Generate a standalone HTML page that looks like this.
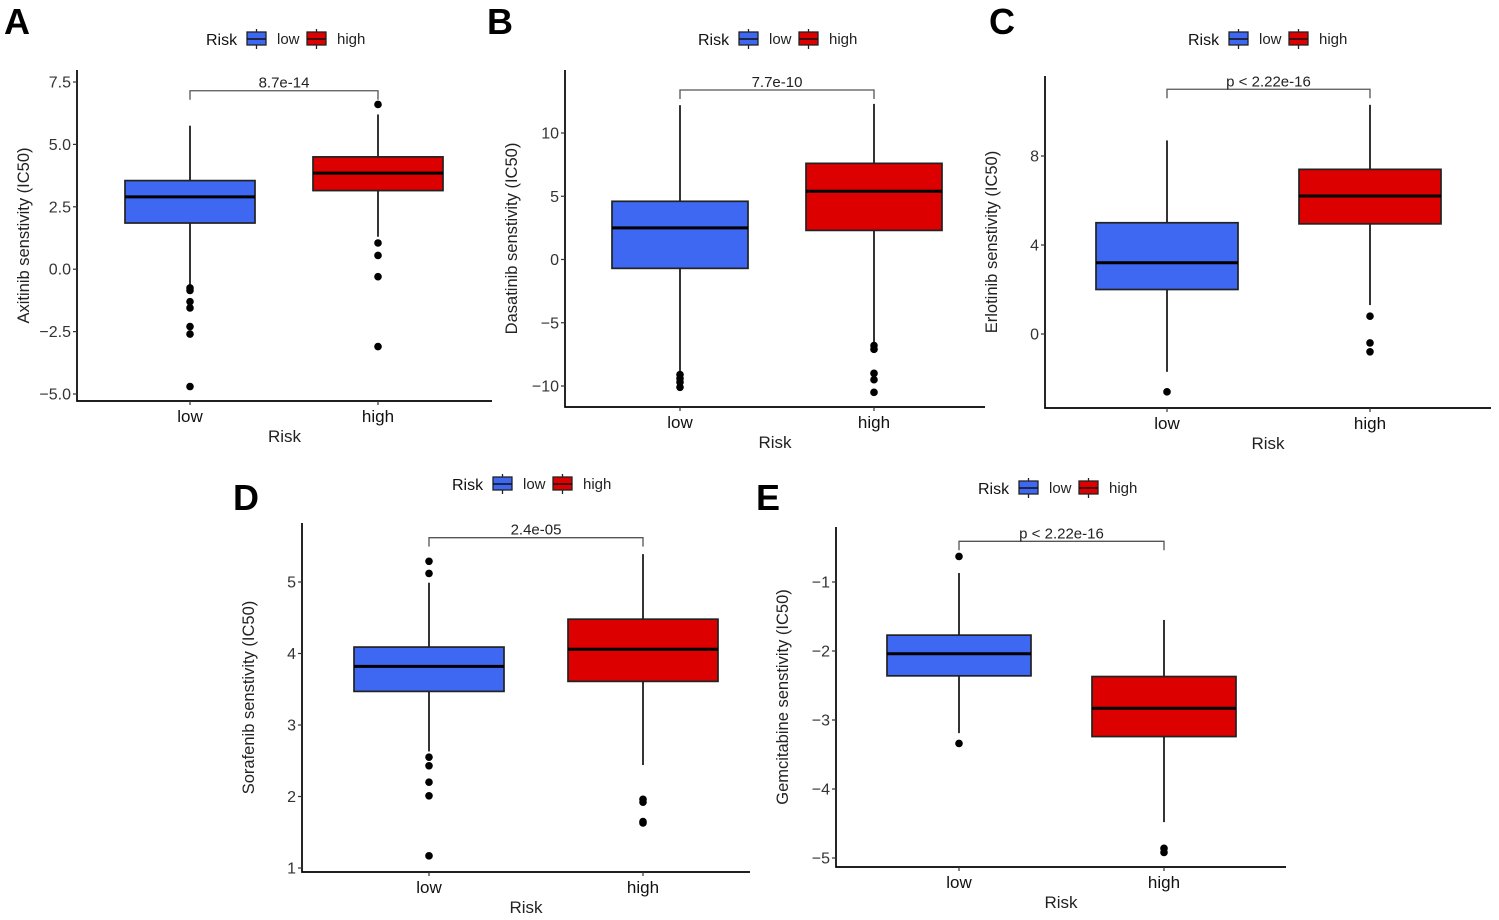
<!DOCTYPE html>
<html><head><meta charset="utf-8"><style>
html,body{margin:0;padding:0;background:#fff;}
svg{display:block;font-family:"Liberation Sans",Arial,sans-serif;}
</style></head><body>
<svg id="fig" width="1499" height="920" viewBox="0 0 1499 920"></svg>
<script>
// ---- data ----
const categories = ["low", "high"];
// stats: [whiskerLow, q1, median, q3, whiskerHigh]
const aTicks = [-5.0, -2.5, 0.0, 2.5, 5.0, 7.5];
const aTickLabels = ["\u22125.0", "\u22122.5", "0.0", "2.5", "5.0", "7.5"];
const aLowStats = [-0.65, 1.85, 2.9, 3.55, 5.75];
const aHighStats = [1.3, 3.15, 3.85, 4.5, 6.2];
const aLowOut = [-0.75, -0.85, -1.3, -1.55, -2.3, -2.6, -4.7];
const aHighOut = [6.6, 1.05, 0.55, -0.3, -3.1];
const aBracket = 7.15;

const bTicks = [-10, -5, 0, 5, 10];
const bTickLabels = ["\u221210", "\u22125", "0", "5", "10"];
const bLowStats = [-8.9, -0.7, 2.5, 4.6, 12.2];
const bHighStats = [-6.6, 2.3, 5.4, 7.6, 12.3];
const bLowOut = [-9.1, -9.4, -9.7, -10.1];
const bHighOut = [-6.8, -7.1, -9.0, -9.5, -10.5];
const bBracket = 13.4;

const cTicks = [0, 4, 8];
const cTickLabels = ["0", "4", "8"];
const cLowStats = [-1.7, 2.0, 3.2, 5.0, 8.7];
const cHighStats = [1.3, 4.95, 6.2, 7.4, 10.3];
const cLowOut = [-2.6];
const cHighOut = [0.8, -0.4, -0.8];
const cBracket = 11.0;

const dTicks = [1, 2, 3, 4, 5];
const dTickLabels = ["1", "2", "3", "4", "5"];
const dLowStats = [2.63, 3.47, 3.82, 4.09, 4.99];
const dHighStats = [2.44, 3.61, 4.06, 4.48, 5.39];
const dLowOut = [5.29, 5.12, 2.55, 2.43, 2.2, 2.01, 1.17];
const dHighOut = [1.96, 1.92, 1.65, 1.63];
const dBracket = 5.62;

const eTicks = [-5, -4, -3, -2, -1];
const eTickLabels = ["\u22125", "\u22124", "\u22123", "\u22122", "\u22121"];
const eLowStats = [-3.19, -2.36, -2.04, -1.77, -0.87];
const eHighStats = [-4.48, -3.24, -2.83, -2.37, -1.55];
const eLowOut = [-0.63, -3.34];
const eHighOut = [-4.86, -4.92];
const eBracket = -0.41;

// ---- layout ----
const panels = [
 {id:"a", letter:"A", lx:4, ly:34, ax:77, ay:401, top:70, right:492, xl:190, xh:378, hw:65, p1:[-5,394], p2:[7.5,82], title:"Axitinib senstivity (IC50)", pval:"8.7e-14", legX:206, legY:39,
  ticks:aTicks, tl:aTickLabels, lo:aLowStats, hi:aHighStats, lo_o:aLowOut, hi_o:aHighOut, br:aBracket},
 {id:"b", letter:"B", lx:487, ly:34, ax:565, ay:407, top:70, right:985, xl:680, xh:874, hw:68, p1:[-10,386], p2:[10,133], title:"Dasatinib senstivity (IC50)", pval:"7.7e-10", legX:698, legY:39,
  ticks:bTicks, tl:bTickLabels, lo:bLowStats, hi:bHighStats, lo_o:bLowOut, hi_o:bHighOut, br:bBracket},
 {id:"c", letter:"C", lx:989, ly:34, ax:1045, ay:408, top:76, right:1491, xl:1167, xh:1370, hw:71, p1:[0,334], p2:[8,156], title:"Erlotinib senstivity (IC50)", pval:"p < 2.22e-16", legX:1188, legY:39,
  ticks:cTicks, tl:cTickLabels, lo:cLowStats, hi:cHighStats, lo_o:cLowOut, hi_o:cHighOut, br:cBracket},
 {id:"d", letter:"D", lx:233, ly:510, ax:302, ay:872, top:523, right:750, xl:429, xh:643, hw:75, p1:[1,868], p2:[5,582], title:"Sorafenib senstivity (IC50)", pval:"2.4e-05", legX:452, legY:484,
  ticks:dTicks, tl:dTickLabels, lo:dLowStats, hi:dHighStats, lo_o:dLowOut, hi_o:dHighOut, br:dBracket},
 {id:"e", letter:"E", lx:756, ly:510, ax:836, ay:867, top:527, right:1286, xl:959, xh:1164, hw:72, p1:[-5,858], p2:[-1,582], title:"Gemcitabine senstivity (IC50)", pval:"p < 2.22e-16", legX:978, legY:488,
  ticks:eTicks, tl:eTickLabels, lo:eLowStats, hi:eHighStats, lo_o:eLowOut, hi_o:eHighOut, br:eBracket}
];
const BLUE="#3f68f2", RED="#dc0000";
const NS="http://www.w3.org/2000/svg";
const svg=document.getElementById("fig");
function mk(tag, attrs, parent, text){
  const el=document.createElementNS(NS,tag);
  for(const k in attrs) el.setAttribute(k, attrs[k]);
  if(text!==undefined) el.textContent=text;
  parent.appendChild(el); return el;
}
panels.forEach(p=>{
  const g=mk("g",{},svg);
  
  
  const ppu=(p.p1[1]-p.p2[1])/(p.p2[0]-p.p1[0]);
  const y=v=>p.p1[1]-(v-p.p1[0])*ppu;
  const xs=[p.xl,p.xh];
  const L=mk("text",{x:p.lx,y:p.ly,"font-size":36,"font-weight":"bold",fill:"#000"},g,p.letter);
  
  
  const lg=mk("g",{},g);
  
  
  mk("text",{x:p.legX,y:p.legY+6,"font-size":16,fill:"#111"},lg,"Risk");
  [[BLUE,"low",41,71],[RED,"high",101,131]].forEach(([c,lab,kx,tx])=>{
    const k=mk("g",{},lg);
    
    
    const X=p.legX+kx;
    mk("line",{x1:X+9.5,x2:X+9.5,y1:p.legY-10,y2:p.legY+10,stroke:"#222","stroke-width":1.3},k);
    mk("rect",{x:X,y:p.legY-7,width:19,height:13,fill:c,stroke:"#222","stroke-width":1.3},k);
    mk("line",{x1:X,x2:X+19,y1:p.legY,y2:p.legY,stroke:"#111","stroke-width":1.6},k);
    mk("text",{x:p.legX+tx,y:p.legY+5,"font-size":15,fill:"#222"},k,lab);
  });
  const ax=mk("path",{d:`M${p.ax},${p.top} V${p.ay} H${p.right}`,fill:"none",stroke:"#000","stroke-width":1.7},g);
  
  
  p.ticks.forEach((t,i)=>{
    mk("line",{x1:p.ax-4,x2:p.ax,y1:y(t),y2:y(t),stroke:"#333","stroke-width":1.2},g);
    const tl=mk("text",{x:p.ax-6,y:y(t)+5.5,"font-size":16,fill:"#333","text-anchor":"end"},g,p.tl[i]);
    
    
  });
  categories.forEach((c,i)=>{
    mk("line",{x1:xs[i],x2:xs[i],y1:p.ay,y2:p.ay+4,stroke:"#333","stroke-width":1.2},g);
    const t=mk("text",{x:xs[i],y:p.ay+21,"font-size":17,fill:"#111","text-anchor":"middle"},g,c);
    
    
  });
  const xt=mk("text",{x:(p.ax+p.right)/2,y:p.ay+41,"font-size":17,fill:"#222","text-anchor":"middle"},g,"Risk");
  
  
  const cy=(p.top+p.ay)/2;
  const yt=mk("text",{x:p.ax-48,y:cy,"font-size":16.5,fill:"#222","text-anchor":"middle",transform:`rotate(-90 ${p.ax-48} ${cy})`},g,p.title);
  
  
  [[p.lo,p.lo_o,BLUE,"low"],[p.hi,p.hi_o,RED,"high"]].forEach(([s,o,c,lab],i)=>{
    const bx=mk("g",{},g);
    
    
    const X=xs[i];
    mk("line",{x1:X,x2:X,y1:y(s[4]),y2:y(s[3]),stroke:"#111","stroke-width":1.7},bx);
    mk("line",{x1:X,x2:X,y1:y(s[1]),y2:y(s[0]),stroke:"#111","stroke-width":1.7},bx);
    mk("rect",{x:X-p.hw,y:y(s[3]),width:2*p.hw,height:y(s[1])-y(s[3]),fill:c,stroke:"#222","stroke-width":1.7},bx);
    mk("line",{x1:X-p.hw,x2:X+p.hw,y1:y(s[2]),y2:y(s[2]),stroke:"#000","stroke-width":3},bx);
    o.forEach(v=>{
      const pt=mk("circle",{cx:X,cy:y(v),r:3.8,fill:"#000"},bx);
      
      
    });
  });
  const by=y(p.br);
  const b=mk("path",{d:`M${p.xl},${by+9} V${by} H${p.xh} V${by+9}`,fill:"none",stroke:"#555","stroke-width":1.3},g);
  
  
  const pv=mk("text",{x:(p.xl+p.xh)/2,y:by-3,"font-size":15,fill:"#222","text-anchor":"middle"},g,p.pval);
  
  
});
</script>
</body></html>
